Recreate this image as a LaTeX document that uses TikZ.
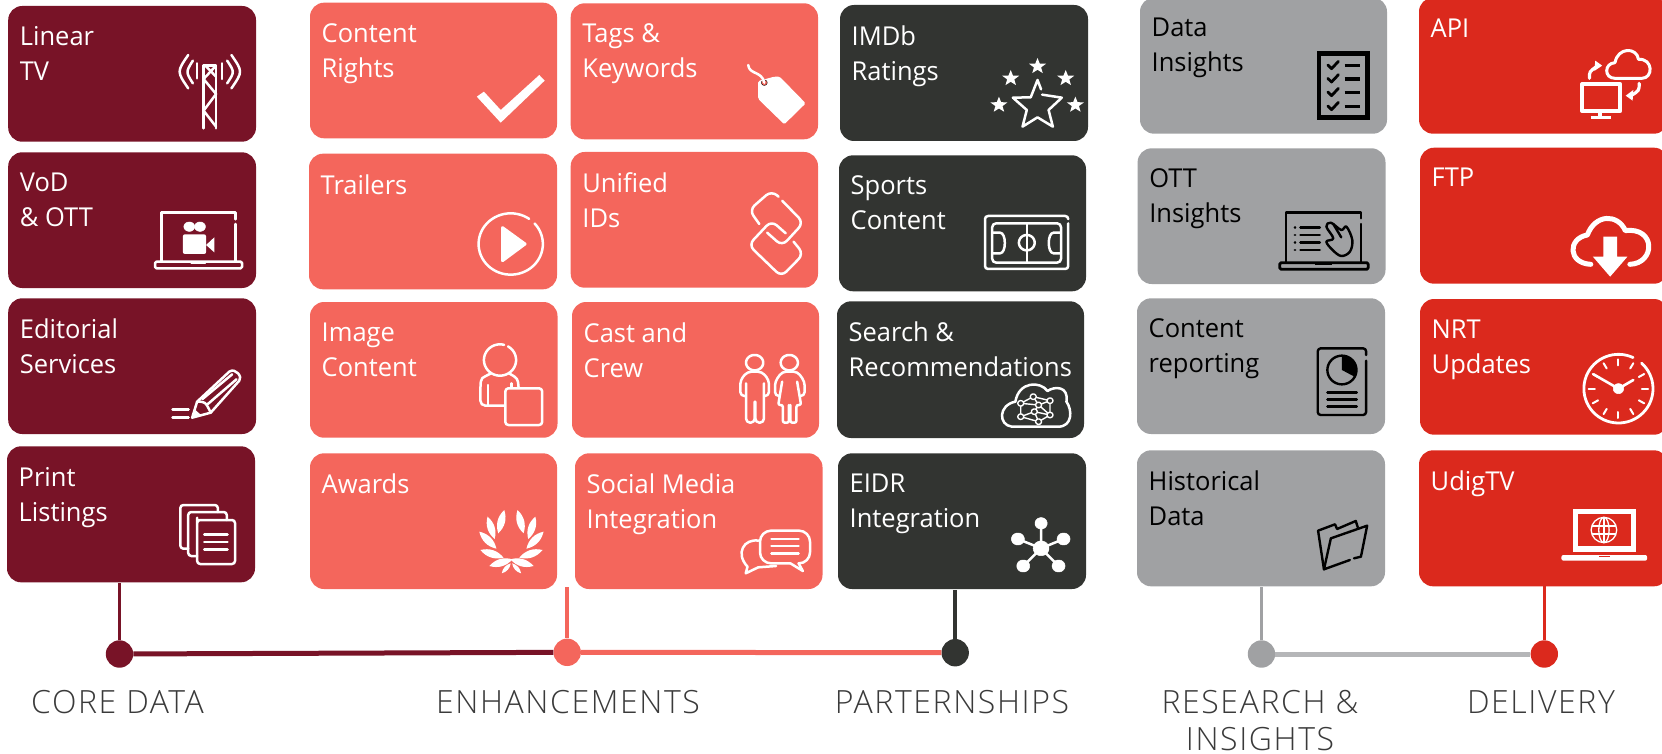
\documentclass[tikz,border=0pt]{standalone}
\usepackage{fontspec}
\setmainfont{Open Sans}
\newfontfamily\tilef[FakeStretch=0.98]{Open Sans}
\newfontfamily\bandf[LetterSpace=5]{Open Sans Light}
\definecolor{Cmaroon}{HTML}{781327}
\definecolor{Ccoral}{HTML}{F4665C}
\definecolor{Cdark}{HTML}{323431}
\definecolor{Cgray}{HTML}{A0A1A3}
\definecolor{Cgrayl}{HTML}{B5B6B8}
\definecolor{Cred}{HTML}{DB291D}
\definecolor{Ctext}{HTML}{3A3A3A}
\tikzset{
 tilebox/.style={rectangle,rounded corners=14pt,inner sep=0pt,draw=none},
 tilelabel/.style={anchor=north west,inner sep=0pt,align=left,font=\tilef\fontsize{26}{35}\selectfont},
 band/.style={anchor=base,inner sep=0pt,text=Ctext,font=\bandf\fontsize{32}{37}\selectfont},
 dot/.style={circle,minimum size=27.4pt,inner sep=0pt,draw=none},
 vline/.style={line width=3.6pt},
 hline/.style={line width=5pt},
 ic/.style={draw=white,line width=2.5pt,line cap=round,line join=round,fill=none},
 icf/.style={fill=white,draw=white,line width=0.5pt,line join=round},
 ik/.style={draw=black,line width=2.4pt,line cap=round,line join=round,fill=none},
 ikf/.style={fill=black,draw=black,line width=0.5pt,line join=round},
 za/.style={shift={(0,0)},x=0.35714pt,y=-0.33333pt},
 zb/.style={shift={(0,290)},x=0.35714pt,y=-0.33333pt},
 zc/.style={shift={(560,0)},x=0.35714pt,y=-0.33333pt},
 zd/.style={shift={(560,290)},x=0.35714pt,y=-0.33333pt},
 ze/.style={shift={(1120,0)},x=0.34566pt,y=-0.33333pt},
 zf/.style={shift={(1120,290)},x=0.34566pt,y=-0.33333pt},
}
\newcommand{\tile}[8]{%
 \node[tilebox,fill=#6,minimum width={(#4-#2)*1pt},minimum height={(#5-#3)*1pt}] (#1) at ({(#2+#4)/2},{(#3+#5)/2}) {};
 \node[tilelabel,text=#7] (#1-l) at ({#2+11.5},{#3+20.5}) {\rule{0pt}{18pt}#8};
}
% style, cu, cv, ru, rv, from, to
\newcommand{\Ell}[7]{\draw[#1] plot[domain=#6:#7,samples=60] ({#2+#4*cos(\x)},{#3+#5*sin(\x)});}
\newcommand{\Star}[4]{\fill[#1] plot[samples at={0,1,2,3,4,5,6,7,8,9}] ({#2+#4*ifthenelse(mod(\x,2)==0,1,0.42)*sin(36*\x)},{#3-#4*ifthenelse(mod(\x,2)==0,1,0.42)*cos(36*\x)}) -- cycle;}
\newcommand{\Leaf}[4]{\fill[white] (#1,#2) to[bend left=32] (#3,#4) to[bend left=32] (#1,#2) -- cycle;}
\begin{document}
\begin{tikzpicture}[x=1pt,y=-1pt]
\useasboundingbox (0,0) rectangle (1662,754);
% connectors
\coordinate (c1) at (119.5,583);
\coordinate (c2) at (567.2,587);
\coordinate (c3) at (955.2,590);
\coordinate (c4) at (1261.5,587);
\coordinate (c5) at (1544.3,586);
\node[dot,fill=Cmaroon] (d1) at (119.5,654) {};
\node[dot,fill=Ccoral] (d2) at (567.2,652.3) {};
\node[dot,fill=Cdark] (d3) at (955.2,652.7) {};
\node[dot,fill=Cgray] (d4) at (1261.5,654) {};
\node[dot,fill=Cred] (d5) at (1544.3,654) {};
\draw[vline,Cmaroon] (c1) -- (d1);
\draw[vline,Ccoral] (c2) -- (d2);
\draw[vline,Cdark] (c3) -- (d3);
\draw[vline,Cgray] (c4) -- (d4);
\draw[vline,Cred] (c5) -- (d5);
\draw[hline,Cmaroon] (d1) -- (d2);
\draw[hline,Ccoral] (d2) -- (d3);
\draw[hline,Cgrayl] (d4) -- (d5);
% tiles
\tile{linear}{8.2}{6}{256}{141.7}{Cmaroon}{white}{Linear\\TV}
\tile{vod}{8.2}{152.3}{256}{288}{Cmaroon}{white}{VoD\\\& OTT}
\tile{edit}{8.2}{298.3}{256}{434}{Cmaroon}{white}{Editorial\\Services}
\tile{print}{7}{446.3}{255}{582.3}{Cmaroon}{white}{Print\\Listings}
\tile{rights}{310}{2.7}{557}{138.3}{Ccoral}{white}{Content\\Rights}
\tile{trailers}{309}{153.7}{557}{289.3}{Ccoral}{white}{Trailers}
\tile{image}{310}{302}{557.5}{437.7}{Ccoral}{white}{Image\\Content}
\tile{awards}{310}{453.3}{557}{589}{Ccoral}{white}{Awards}
\tile{tags}{570.7}{3.3}{818}{139.3}{Ccoral}{white}{Tags \&\\Keywords}
\tile{unified}{570.7}{152}{818}{287.7}{Ccoral}{white}{Unified\\IDs}
\tile{cast}{572}{302}{819}{437.7}{Ccoral}{white}{Cast and\\Crew}
\tile{social}{575}{453.3}{822.5}{589}{Ccoral}{white}{Social Media\\Integration}
\tile{imdb}{840}{5}{1088}{141}{Cdark}{white}{IMDb\\Ratings}
\tile{sports}{839}{155.3}{1086}{291.3}{Cdark}{white}{Sports\\Content}
\tile{search}{837}{301.3}{1084}{438}{Cdark}{white}{Search \&\\Recommendations}
\tile{eidr}{838}{453.3}{1086}{589}{Cdark}{white}{EIDR\\Integration}
\tile{data}{1140}{-2.3}{1387}{133.7}{Cgray}{black}{Data\\Insights}
\tile{ott}{1137.6}{148.3}{1385.5}{284}{Cgray}{black}{OTT\\Insights}
\tile{report}{1137}{298.3}{1385}{434}{Cgray}{black}{Content\\reporting}
\tile{hist}{1137}{450.3}{1385}{586.3}{Cgray}{black}{Historical\\Data}
\tile{api}{1419}{-2.3}{1668}{133.7}{Cred}{white}{API}
\tile{ftp}{1420}{147.7}{1668}{283.7}{Cred}{white}{FTP}
\tile{nrt}{1420}{299}{1668}{434.7}{Cred}{white}{NRT\\Updates}
\tile{udig}{1419}{450.3}{1668}{586.3}{Cred}{white}{UdigTV}
% band labels
\node[band] (l1) at (117.5,713) {CORE DATA};
\node[band] (l2) at (568,713) {ENHANCEMENTS};
\node[band] (l3) at (952,713) {PARTERNSHIPS};
\node[band] (l4) at (1260,713) {RESEARCH \&};
\node[band] (l4b) at (1260,750) {INSIGHTS};
\node[band] (l5) at (1541,713) {DELIVERY};
% ---- icons, zoom A
\begin{scope}[za]
% tower
\draw[ic] (570,385)--(570,197)--(605,197)--(605,385);
\draw[ic] (605,197)--(570,237)--(605,282)--(570,332)--(605,380);
\draw[ic] (575,197)--(605,230);
\draw[ic] (552,190)--(552,235) (622,190)--(622,237);
\draw[ic] (527,165) .. controls (495,215) .. (527,265);
\draw[ic] (540,182) .. controls (520,216) .. (540,250);
\draw[ic] (648,165) .. controls (680,215) .. (648,265);
\draw[ic] (636,182) .. controls (657,216) .. (636,250);
% check
\fill[white] (1335,290)--(1355,275)--(1402,330)--(1510,225)--(1525,242)--(1402,368)--cycle;
% laptop
\draw[ic] (660,658)--(660,637)--(452,637)--(452,785);
\draw[ic] (660,672)--(660,785);
\draw[ic,rounded corners=1.5pt] (434,785) rectangle (678,805);
\draw[ic,line width=1pt] (535,792)--(575,792);
\Ell{icf}{530}{680}{15}{14}{0}{360}
\Ell{icf}{560}{680}{15}{14}{0}{360}
\fill[white,rounded corners=2pt] (512,703) rectangle (577,762);
\fill[white] (577,735)--(600,712)--(600,757)--cycle;
% play
\Ell{ic}{1430}{732}{90}{92}{-42}{305}
\draw[icf,line width=3pt] (1407,683)--(1470,732)--(1407,782)--cycle;
\end{scope}
% ---- zoom B
\begin{scope}[zb]
% pencil
\draw[ic] (538,383)--(552,335)--(642,245) .. controls (660,232) and (680,262) .. (670,272)--(590,368)--cycle;
\draw[ic] (567,327)--(650,253) (582,342)--(662,268);
\draw[ic] (552,335) .. controls (575,335) .. (590,368);
\fill[white] (538,383)--(545,358)--(563,375)--cycle;
\draw[ic] (483,358)--(528,358) (483,383)--(528,383);
% person
\Ell{ic}{1400}{210}{45}{47}{-60}{285}
\draw[ic,rounded corners=5pt] (1412,347)--(1345,347)--(1345,290) .. controls (1347,265) .. (1375,250);
\draw[ic] (1425,250) .. controls (1450,265) .. (1452,293);
\draw[ic] (1367,285)--(1367,347) (1432,280)--(1432,293);
\draw[ic,rounded corners=3pt] (1415,295) rectangle (1518,405);
% pages
\draw[ic,rounded corners=3pt] (552,692)--(552,822)--(658,822)--(658,690)--(552,690)--cycle;
\draw[ic,rounded corners=3pt] (552,798)--(527,798)--(527,666)--(635,666)--(635,690);
\draw[ic,rounded corners=3pt] (527,776)--(505,776)--(505,645)--(610,645)--(610,666);
\draw[ic] (572,733)--(637,733) (572,756)--(637,756) (572,778)--(637,778);
% laurel
\Leaf{1395}{730}{1412}{660}
\Leaf{1385}{747}{1365}{680}
\Leaf{1390}{776}{1342}{725}
\Leaf{1410}{803}{1345}{780}
\Leaf{1435}{808}{1370}{828}
\Leaf{1430}{820}{1405}{850}
\Leaf{1449}{660}{1466}{730}
\Leaf{1499}{680}{1479}{747}
\Leaf{1522}{725}{1474}{776}
\Leaf{1519}{780}{1454}{803}
\Leaf{1494}{828}{1429}{808}
\Leaf{1459}{850}{1434}{820}
\end{scope}
% ---- zoom C
\begin{scope}[zc]
% tag
\fill[white,rounded corners=1.5pt] (555,243)--(600,230)--(615,230)--(688,310)--(628,373)--(555,297)--cycle;
\Ell{{fill=Ccoral}}{572}{248}{8}{8}{0}{360}
\draw[ic] (527,195) .. controls (530,225) and (565,212) .. (572,248);
% chain
\draw[ic,rounded corners=7pt] (622,602)--(682,668)--(622,738)--(580,698);
\draw[ic,rounded corners=7pt] (558,672)--(530,630)--(592,572)--(612,590);
\draw[ic,rounded corners=7pt] (632,700)--(592,662)--(528,735)--(620,830)--(682,762)--(654,725);
% stars
\Star{white}{1337}{199}{25}
\Star{white}{1262}{235}{25}
\Star{white}{1416}{235}{25}
\Star{white}{1229}{315}{25}
\Star{white}{1443}{315}{25}
\draw[ic] (1350,284)--(1405,293)--(1368,330)--(1380,380)--(1337,352)--(1295,380)--(1307,330)--(1268,293)--(1318,292)--(1337,240)--(1347,268);
% stadium
\draw[ic,rounded corners=3pt] (1423,670)--(1423,807)--(1190,807)--(1190,648)--(1423,648)--(1423,656);
\draw[ic,rounded corners=4pt] (1210,670) rectangle (1403,788);
\draw[ic] (1307,670)--(1307,788);
\Ell{ic}{1307}{728}{22}{23}{0}{360}
\draw[ic] (1212,698)--(1232,698) .. controls (1250,698) and (1250,760) .. (1232,760)--(1212,760);
\draw[ic] (1402,698)--(1382,698) .. controls (1364,698) and (1364,760) .. (1382,760)--(1402,760);
\end{scope}
% ---- zoom D
\begin{scope}[zd]
% people
\Ell{ic}{545}{218}{24}{23}{0}{360}
\draw[ic,rounded corners=4pt] (520,318)--(505,318)--(505,270)--(525,245)--(565,245)--(585,270)--(585,318)--(572,318);
\draw[ic,rounded corners=4pt] (521,280)--(521,398)--(545,398)--(545,335);
\draw[ic,rounded corners=4pt] (571,280)--(571,398)--(547,398)--(547,335);
\Ell{ic}{642}{218}{24}{23}{0}{360}
\draw[ic,rounded corners=4pt] (612,318)--(602,318)--(602,275)--(622,245)--(665,245)--(685,275)--(685,318)--(672,318);
\draw[ic,rounded corners=2pt] (622,275)--(611,345)--(624,345)--(624,398)--(641,398)--(641,345);
\draw[ic,rounded corners=2pt] (664,275)--(675,345)--(662,345)--(662,398)--(645,398)--(645,345);
% cloud net
\draw[ic] (1265,410) .. controls (1227,405) and (1227,345) .. (1275,335) .. controls (1285,273) and (1345,273) .. (1365,303) .. controls (1385,288) and (1425,288) .. (1418,335) .. controls (1435,360) and (1435,410) .. (1395,410) -- cycle;
\draw[ic,line width=1.4pt] (1290,340)--(1325,320)--(1372,332)--(1372,375)--(1340,395)--(1290,380)--(1290,340)--(1340,345)--(1372,332) (1340,345)--(1328,365)--(1290,380) (1328,365)--(1340,395) (1325,320)--(1340,345)--(1372,375) (1328,365)--(1372,375);
\foreach \a/\b in {1290/340,1325/320,1372/332,1340/345,1328/365,1290/380,1372/375,1340/395}{
 \Ell{{fill=Cdark,draw=white,line width=1.4pt}}{\a}{\b}{8}{8}{0}{360}
}
% bubbles
\draw[ic,rounded corners=11pt] (668,820)--(700,820)--(700,722)--(560,722)--(560,820)--(645,820);
\draw[ic] (645,820)--(680,843)--(668,820);
\draw[ic] (556,752) .. controls (515,745) and (490,790) .. (525,830)--(520,850)--(555,832)--(605,828);
\draw[ic] (592,747)--(668,747) (592,768)--(668,768) (592,790)--(668,790);
% hub
\draw[ic,line width=2.5pt] (1347,775)--(1347,700) (1347,775)--(1282,747) (1347,775)--(1410,747) (1347,775)--(1297,828) (1347,775)--(1396,828);
\Ell{icf}{1347}{775}{22}{22}{0}{360}
\Ell{icf}{1347}{700}{17}{17}{0}{360}
\Ell{icf}{1282}{747}{18}{18}{0}{360}
\Ell{icf}{1410}{747}{18}{18}{0}{360}
\Ell{icf}{1297}{828}{18}{18}{0}{360}
\Ell{icf}{1396}{828}{18}{18}{0}{360}
\end{scope}
% ---- zoom E
\begin{scope}[ze]
% checklist
\draw[black,line width=4.5pt] (575,160) rectangle (716,353);
\foreach \v in {197,237,278,320}{
 \draw[ik,line width=2.8pt] (601,{\v-2})--(612,{\v+9})--(632,{\v-13});
 \draw[black,line width=3.6pt] (650,\v)--(695,\v);
}
% ott laptop
\draw[ik] (698,655)--(698,637)--(480,637)--(480,785);
\draw[ik] (698,672)--(698,785);
\draw[ik,line width=2.8pt,rounded corners=1.5pt] (462,788) rectangle (718,808);
\fill[black] (565,790) rectangle (612,796);
\foreach \v in {682,705,727,750}{
 \draw[ik,line width=2.5pt] (506,\v)--(506.5,\v);
 \draw[ik,line width=2.5pt] (522,\v)--(578,\v);
}
\draw[ik] plot[smooth cycle,tension=0.6] coordinates {(597,680)(610,668)(640,690)(655,680)(672,720)(665,755)(640,768)(615,750)(597,725)(617,715)};
\draw[ik] (617,672)--(640,712);
% api
\draw[ic,line width=3pt] (1432,235) .. controls (1400,235) and (1400,190) .. (1432,188) .. controls (1440,141) and (1495,141) .. (1500,178) .. controls (1543,175) and (1543,235) .. (1510,235) -- cycle;
\draw[ic,line width=4.2pt] (1337,253) rectangle (1447,333);
\draw[white,line width=4pt] (1390,333)--(1390,350);
\draw[white,line width=3.6pt] (1362,353)--(1420,353);
\draw[ic,line width=3.2pt] (1358,235) .. controls (1358,215) .. (1378,200);
\fill[white] (1375,182)--(1395,197)--(1372,213)--cycle;
\draw[ic,line width=3.2pt] (1502,250) .. controls (1502,272) .. (1478,287);
\fill[white] (1463,287)--(1485,270)--(1483,302)--cycle;
% ftp
\draw[ic,line width=5pt] (1362,793) .. controls (1295,790) and (1295,715) .. (1352,705) .. controls (1375,641) and (1440,641) .. (1462,692) .. controls (1550,680) and (1550,790) .. (1475,793);
\fill[white] (1398,710)--(1438,710)--(1438,770)--(1468,770)--(1418,830)--(1368,770)--(1398,770)--cycle;
\end{scope}
% ---- zoom F
\begin{scope}[zf]
% report
\draw[ik,rounded corners=3pt] (712,195)--(712,175)--(572,175)--(572,375)--(712,375)--(712,212);
\Ell{ik}{642}{240}{42}{43}{0}{360}
\fill[black] (642,197)--(642,240)--(682,262)
 plot[domain=30:-90,samples=20] ({642+42*cos(\x)},{240+43*sin(\x)}) -- cycle;
\draw[ik] (600,307)--(685,307) (600,328)--(685,328) (600,350)--(685,350);
% clock
\Ell{{draw=white,line width=2.8pt,line cap=round}}{1442}{296}{100}{103}{-48}{295}
\Ell{icf}{1442}{296}{15}{15}{0}{360}
\draw[white,line width=2.6pt,line cap=round] (1442,296)--(1370,253) (1442,296)--(1485,270);
\foreach \t in {0,30,...,330}{
 \draw[white,line width=2pt,line cap=round] ({1442+68*cos(\t)},{296+70*sin(\t)})--({1442+86*cos(\t)},{296+88*sin(\t)});
}
% folder
\draw[ik] (590,838)--(573,722)--(622,703)--(628,717)--(682,693)--(688,712);
\draw[ik] (677,805)--(697,800)--(715,707)--(610,745)--(590,838)--(665,810);
% udig laptop
\fill[white] (1310,657) rectangle (1492,785);
\fill[Cred] (1325,672) rectangle (1477,768);
\fill[white,rounded corners=2pt] (1277,795) rectangle (1525,812);
\fill[Cred] (1385,797) rectangle (1418,801);
\draw[white,line width=1.3pt] (1400,720) ellipse [x radius=37,y radius=38];
\draw[white,line width=1.3pt] (1400,720) ellipse [x radius=15,y radius=38];
\draw[white,line width=1.3pt] (1400,682)--(1400,758) (1366,708)--(1434,708) (1366,732)--(1434,732);
\end{scope}
\end{tikzpicture}
\end{document}
